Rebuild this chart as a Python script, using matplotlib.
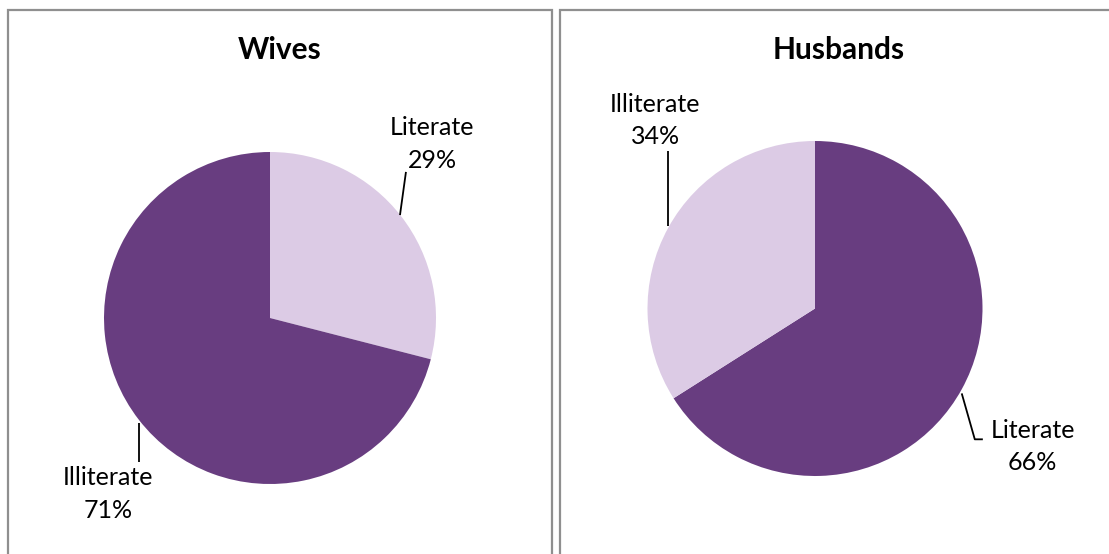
import matplotlib
matplotlib.use("Agg")
import matplotlib.pyplot as plt
from matplotlib.patches import Rectangle

# Literacy shares (percent)
categories = ["Literate", "Illiterate"]
wives_values = [29, 71]
husbands_values = [66, 34]
panel_titles = ["Wives", "Husbands"]

DARK = "#683d80"
LIGHT = "#dccbe5"

W, H = 1109, 554
fig = plt.figure(figsize=(W / 100, H / 100), dpi=100)
fig.patch.set_facecolor("white")

plt.rcParams["font.family"] = ["Lato", "DejaVu Sans"]

# panel frames (open at the bottom / right, like a cropped sheet)
frame_kw = dict(transform=None, fill=False, edgecolor="#8f8f8f", linewidth=1.6)
fig.patches.append(Rectangle((7.5, -20), 552 - 7.5, H - 10 + 20, **frame_kw))
fig.patches.append(Rectangle((559.5, -20), 700, H - 10 + 20, **frame_kw))

# titles
fig.text(280 / W, 1 - 50 / H, panel_titles[0], ha="center", va="center",
         fontsize=21.5, fontweight="bold")
fig.text(839 / W, 1 - 50 / H, panel_titles[1], ha="center", va="center",
         fontsize=21.5, fontweight="bold")


def pie_axes(cx, cy, r):
    ax = fig.add_axes([(cx - r) / W, 1 - (cy + r) / H, 2 * r / W, 2 * r / H])
    ax.set_axis_off()
    return ax


label_kw = dict(ha="center", va="center", fontsize=18, linespacing=1.5,
                clip_on=False)
line_kw = dict(color="black", linewidth=1.3, clip_on=False,
               solid_capstyle="butt")

# Wives
ax1 = pie_axes(270, 318, 166)
ax1.pie(wives_values, colors=[LIGHT, DARK], startangle=90, counterclock=False,
        wedgeprops=dict(linewidth=0))
ax1.set_xlim(-1, 1)
ax1.set_ylim(-1, 1)
ax1.plot([0.783, 0.819], [0.620, 0.880], **line_kw)
ax1.text(0.976, 1.048, f"{categories[0]}\n{wives_values[0]}%", **label_kw)
ax1.plot([-0.789, -0.789], [-0.633, -0.867], **line_kw)
ax1.text(-0.976, -1.06, f"{categories[1]}\n{wives_values[1]}%", **label_kw)

# Husbands
ax2 = pie_axes(815, 308.5, 167.5)
ax2.pie(husbands_values, colors=[DARK, LIGHT], startangle=90, counterclock=False,
        wedgeprops=dict(linewidth=0))
ax2.set_xlim(-1, 1)
ax2.set_ylim(-1, 1)
ax2.plot([-0.877, -0.877], [0.495, 0.942], **line_kw)
ax2.text(-0.954, 1.121, f"{categories[1]}\n{husbands_values[1]}%", **label_kw)
ax2.plot([0.876, 0.954, 1.002], [-0.507, -0.781, -0.781], **line_kw)
ax2.text(1.300, -0.823, f"{categories[0]}\n{husbands_values[0]}%", **label_kw)

fig.savefig("out.png", dpi=100, facecolor="white")
